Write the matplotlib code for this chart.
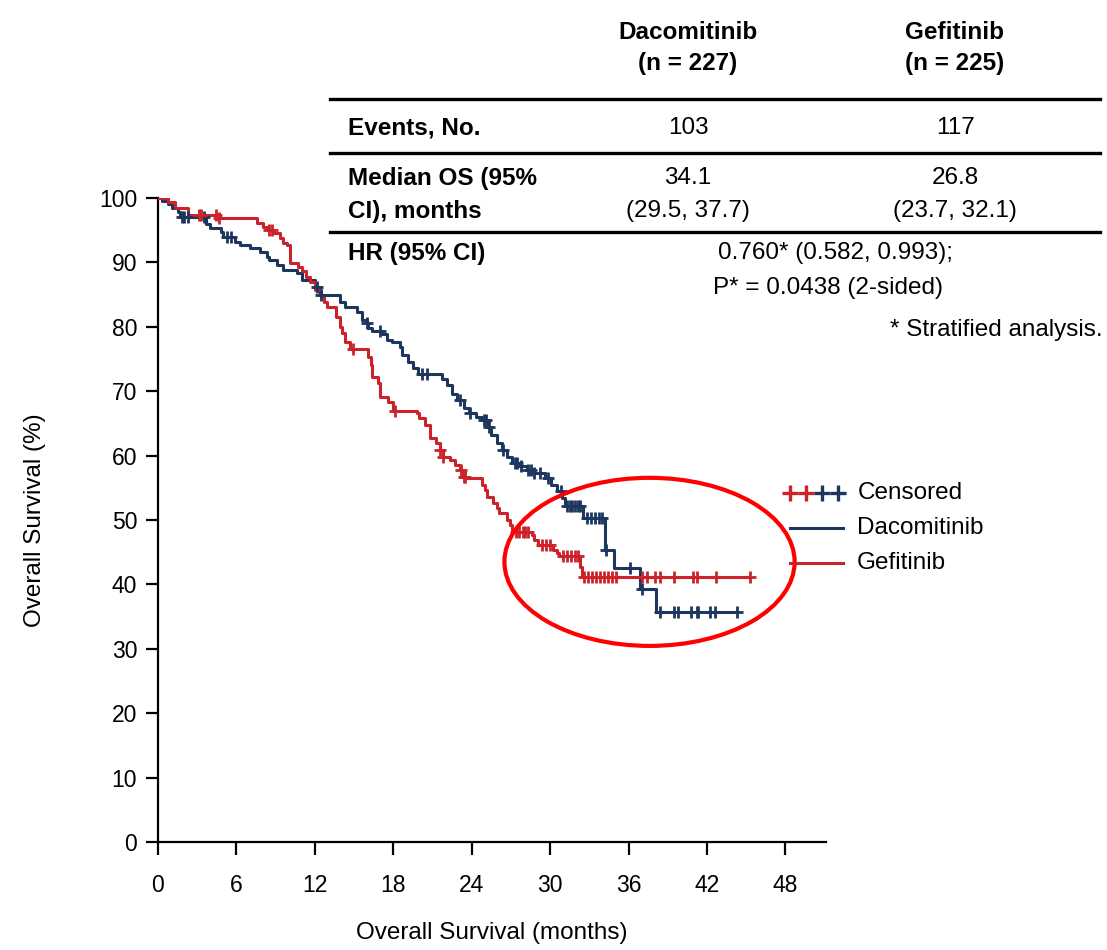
import numpy as np
import matplotlib
matplotlib.use("Agg")
import matplotlib.pyplot as plt
from matplotlib.patches import Ellipse
from matplotlib.lines import Line2D

plt.rcParams['font.family'] = ['Liberation Sans Narrow', 'Liberation Sans', 'DejaVu Sans']

RED = "#cc2229"
NAVY = "#1c365e"

# --- Kaplan-Meier steps (months, % surviving after the event) ---
daco_t = [0, 0.3, 0.8, 1.1, 1.5, 1.7, 3.7, 4.0, 4.8, 5.0, 5.9, 6.3, 7.0, 7.8, 8.3, 8.5,
          9.1, 9.6, 10.6, 11.0, 12.0, 12.4, 13.9, 14.3, 15.2, 15.6, 16.0, 16.1, 16.4,
          17.1, 17.5, 17.9, 18.5, 18.7, 19.1, 19.5, 19.9, 21.7, 22.1, 22.5, 22.9, 23.4,
          23.8, 24.3, 24.8, 25.2, 25.5, 25.9, 26.3, 26.7, 27.1, 27.7, 28.2, 28.7, 29.6,
          30.1, 30.5, 30.9, 31.1, 32.5, 34.2, 34.9, 36.9, 38.1]
daco_s = [100, 99.6, 99.0, 98.4, 97.8, 97.0, 96.0, 95.3, 94.7, 93.9, 93.2, 92.7, 92.3,
          91.6, 90.8, 90.4, 89.6, 88.8, 88.3, 87.3, 86.2, 84.9, 83.9, 83.0, 82.3, 81.0,
          80.6, 79.8, 79.3, 78.9, 78.0, 77.6, 76.9, 75.6, 74.5, 73.6, 72.7, 71.9, 71.0,
          69.6, 68.6, 67.4, 66.6, 66.0, 65.5, 64.4, 63.2, 62.0, 60.9, 59.8, 58.9, 58.4,
          57.8, 57.3, 56.5, 55.4, 54.5, 53.4, 52.2, 50.3, 45.3, 42.5, 39.3, 35.7]
daco_end = 44.3

gef_t = [0, 0.8, 1.3, 2.3, 4.7, 7.6, 8.0, 8.4, 8.8, 9.3, 9.6, 9.9, 10.1, 10.7, 11.0,
         11.3, 11.6, 12.0, 12.5, 12.7, 12.9, 13.6, 13.9, 14.1, 14.3, 14.7, 16.1, 16.3,
         16.4, 16.8, 17.0, 17.6, 18.0, 19.8, 20.0, 20.4, 20.8, 21.3, 21.6, 21.8, 22.3,
         22.7, 23.1, 23.3, 23.6, 24.8, 25.0, 25.2, 25.6, 25.9, 26.1, 26.7, 26.9, 27.1,
         27.3, 28.6, 28.8, 29.1, 30.2, 30.5, 30.7, 32.3, 32.4]
gef_s = [100, 99.4, 98.5, 97.4, 96.9, 96.1, 95.5, 95.0, 94.6, 93.8, 93.0, 92.7, 89.9,
         89.3, 88.6, 87.7, 87.0, 85.7, 84.6, 83.9, 83.0, 81.5, 80.0, 79.0, 77.6, 76.6,
         75.3, 74.0, 72.2, 71.3, 69.1, 68.3, 67.0, 66.6, 65.8, 64.7, 62.7, 62.0, 60.9,
         59.8, 59.3, 58.5, 57.8, 56.7, 56.5, 55.4, 54.7, 53.6, 52.6, 51.9, 51.1, 50.0,
         49.2, 48.4, 48.1, 47.7, 46.9, 46.1, 45.3, 44.9, 44.4, 42.7, 41.1]
gef_end = 45.3

# --- censoring times (months) ---
daco_cens = [1.8, 2.0, 2.3, 3.5, 5.3, 5.6, 12.2, 12.5, 16.0, 17.0, 20.2, 20.6, 23.1,
             23.9, 24.9, 25.1, 25.3, 26.4, 27.3, 27.5, 27.8, 28.3, 28.5, 28.8, 29.2,
             29.8, 30.8, 31.3, 31.5, 31.7, 31.9, 32.1, 32.3, 32.8, 33.1, 33.4, 33.7,
             34.0, 34.3, 36.1, 37.0, 38.4, 39.5, 39.75, 40.8, 41.2, 41.3, 42.2, 42.6, 44.3]
gef_cens = [3.1, 3.3, 4.4, 4.7, 8.5, 8.7, 14.9, 18.1, 21.6, 21.8, 23.2, 23.4, 23.5,
            27.4, 27.6, 27.9, 28.1, 28.3, 29.4, 29.7, 30.0, 31.0, 31.3, 31.6, 31.9,
            32.1, 32.6, 32.9, 33.2, 33.5, 33.8, 34.1, 34.4, 34.7, 35.0, 37.0, 37.4,
            38.0, 38.4, 39.5, 40.9, 41.2, 42.7, 45.3]

x_ticks = [0, 6, 12, 18, 24, 30, 36, 42, 48]
y_ticks = [0, 10, 20, 30, 40, 50, 60, 70, 80, 90, 100]

table_cols = ["Dacomitinib\n(n = 227)", "Gefitinib\n(n = 225)"]
events = ["103", "117"]
median_os = ["34.1", "26.8"]
median_ci = ["(29.5, 37.7)", "(23.7, 32.1)"]
hr_text = ["0.760* (0.582, 0.993);", "P* = 0.0438 (2-sided)"]

FS = 17.5


def surv_at(times, surv, t):
    idx = np.searchsorted(np.asarray(times), t, side="right") - 1
    return np.asarray(surv)[idx]


fig = plt.figure(figsize=(11.07, 9.5), dpi=100)
W, H = 1107, 950


def fx(px):
    return px / W


def fy(py):
    return 1 - py / H


ax = fig.add_axes([fx(158), fy(842), (826 - 158) / W, (842 - 198) / H])

for t, s, end, cens, col in [(daco_t, daco_s, daco_end, daco_cens, NAVY),
                             (gef_t, gef_s, gef_end, gef_cens, RED)]:
    tt = list(t) + [end]
    ss = list(s) + [s[-1]]
    ax.step(tt, ss, where="post", color=col, lw=2.2, zorder=3)
    cens = np.array(cens)
    ax.plot(cens, surv_at(t, s, cens), ls="none", marker="+", ms=9, mew=2,
            color=col, zorder=4)

# highlighted region
ax.add_patch(Ellipse((37.6, 43.5), 22.2, 26.1, fill=False, ec="#ff0000", lw=3,
                     zorder=6, clip_on=False))

ax.set_xlim(0, 51.1)
ax.set_ylim(0, 100)
ax.set_xticks(x_ticks)
ax.set_yticks(y_ticks)
ax.tick_params(direction="out", length=9, width=1.6, labelsize=16.5, pad=6)
ax.tick_params(axis="x", pad=14)
for side in ["top", "right"]:
    ax.spines[side].set_visible(False)
for side in ["left", "bottom"]:
    ax.spines[side].set_linewidth(1.6)
ax.set_ylabel("Overall Survival (%)", fontsize=FS, labelpad=38)
fig.text(fx(492), fy(933), "Overall Survival (months)", ha="center", va="center",
         fontsize=FS)

# summary table
col_x = [688, 955]
for i, cx in enumerate(col_x):
    fig.text(fx(cx), fy(48), table_cols[i], ha="center", va="center",
             fontsize=FS, fontweight="bold", linespacing=1.45)
    fig.text(fx(cx), fy(128), events[i], ha="center", va="center", fontsize=FS)
    fig.text(fx(cx), fy(178), median_os[i], ha="center", va="center", fontsize=FS)
    fig.text(fx(cx), fy(211), median_ci[i], ha="center", va="center", fontsize=FS)

for py in [99, 153, 232]:
    fig.add_artist(Line2D([fx(330), fx(1100)], [fy(py), fy(py)], color="black", lw=2.4))

fig.text(fx(348), fy(128), "Events, No.", ha="left", va="center", fontsize=FS,
         fontweight="bold")
fig.text(fx(348), fy(178), "Median OS (95%", ha="left", va="center", fontsize=FS,
         fontweight="bold")
fig.text(fx(348), fy(211), "CI), months", ha="left", va="center", fontsize=FS,
         fontweight="bold")
fig.text(fx(348), fy(253), "HR (95% CI)", ha="left", va="center", fontsize=FS,
         fontweight="bold")
fig.text(fx(835), fy(253), hr_text[0], ha="center", va="center", fontsize=FS)
fig.text(fx(828), fy(288), hr_text[1], ha="center", va="center", fontsize=FS)
fig.text(fx(1103), fy(330), "* Stratified analysis.", ha="right", va="center",
         fontsize=FS)

# legend
for px, col in zip([790, 806, 822, 838], [RED, RED, NAVY, NAVY]):
    fig.add_artist(Line2D([fx(px)], [fy(493)], marker="+", ms=11, mew=2.4, color=col))
fig.text(fx(858), fy(493), "Censored", ha="left", va="center", fontsize=FS)
fig.add_artist(Line2D([fx(790), fx(843)], [fy(528), fy(528)], color=NAVY, lw=2.2))
fig.text(fx(857), fy(528), "Dacomitinib", ha="left", va="center", fontsize=FS)
fig.add_artist(Line2D([fx(790), fx(843)], [fy(563), fy(563)], color=RED, lw=2.2))
fig.text(fx(857), fy(563), "Gefitinib", ha="left", va="center", fontsize=FS)

fig.savefig("out.png", dpi=100)
